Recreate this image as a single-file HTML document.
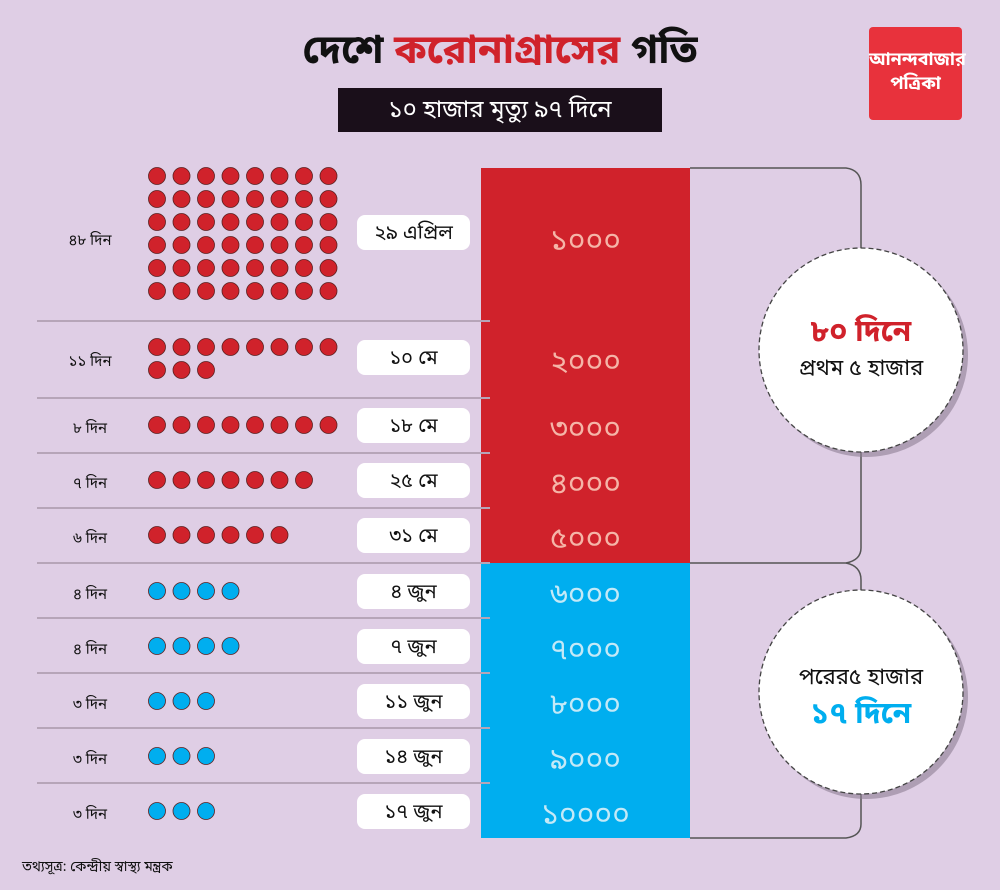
<!DOCTYPE html>
<html><head><meta charset="utf-8">
<style>
html,body{margin:0;padding:0}
body{width:1000px;height:890px;background:#dfcee5;position:relative;overflow:hidden;font-family:"Noto Sans Bengali","Lohit Bengali","FreeSans","Liberation Sans",sans-serif;color:#111}
.abs{position:absolute}
.lbl{position:absolute;left:50px;width:80px;text-align:center;font-size:15px}
.pill{position:absolute;left:357px;width:113px;height:35px;background:#fff;border-radius:8px;text-align:center;line-height:40px;font-size:20px}
.num{position:absolute;left:481px;width:209px;text-align:center;font-size:30px}
.sep{position:absolute;left:37px;width:453px;height:2px;background:#b6a5b8}
</style></head><body>
<div class="abs" style="left:0;width:1000px;top:27px;text-align:center;font-size:40px;font-weight:bold">দেশে <span style="color:#d0222b">করোনাগ্রাসের</span> গতি</div>
<div class="abs" style="left:338px;top:88px;width:324px;height:44px;background:#1a0f1a;color:#fff;text-align:center;line-height:46px;font-size:24px">১০ হাজার মৃত্যু ৯৭ দিনে</div>
<div class="abs" style="left:869px;top:27px;width:93px;height:93px;background:#e8323c;border-radius:4px;color:#fff;text-align:center;font-size:18px;font-weight:bold;line-height:24px;padding-top:22px;box-sizing:border-box">আনন্দবাজার<br>পত্রিকা</div>

<div class="abs" style="left:481px;top:168px;width:209px;height:395px;background:#d0222b"></div>
<div class="abs" style="left:481px;top:563px;width:209px;height:275px;background:#00aeef"></div>

<svg class="abs" style="left:0;top:0" width="1000" height="890">
<g stroke="#555" stroke-width="1.5" fill="none">
<path d="M690 168 H846 Q861 170 861 185 V250"/>
<path d="M861 452 V548 Q861 560 846 563 H690"/>
<path d="M846 563 Q861 566 861 580 V592"/>
<path d="M861 793 V824 Q861 836 846 838 H690"/>
</g>
<g fill="#8e7f93" opacity="0.6"><circle cx="866" cy="355" r="102"/><circle cx="866" cy="697" r="102"/></g>
<g fill="#fff" stroke="#444" stroke-width="1.3" stroke-dasharray="5 3"><circle cx="861" cy="350" r="102"/><circle cx="861" cy="692" r="102"/></g>
<g id="dots" stroke="#5a2020" stroke-width="0.8"></g>
</svg>
<div class="abs" style="left:759px;top:314px;width:204px;text-align:center;font-size:30px;font-weight:bold;color:#d0222b">৮০ দিনে</div>
<div class="abs" style="left:759px;top:355px;width:204px;text-align:center;font-size:22px">প্রথম ৫ হাজার</div>
<div class="abs" style="left:759px;top:664px;width:204px;text-align:center;font-size:22px">পরের৫ হাজার</div>
<div class="abs" style="left:759px;top:696px;width:204px;text-align:center;font-size:30px;font-weight:bold;color:#00aeef">১৭ দিনে</div>

<div class="sep" style="top:320px"></div><div class="sep" style="top:397px"></div><div class="sep" style="top:452px"></div><div class="sep" style="top:507px"></div><div class="sep" style="top:562px"></div><div class="sep" style="top:617px"></div><div class="sep" style="top:672px"></div><div class="sep" style="top:727px"></div><div class="sep" style="top:782px"></div>

<div id="rows"></div>
<div class="abs" style="left:22px;top:858px;font-size:14px">তথ্যসূত্র: কেন্দ্রীয় স্বাস্থ্য মন্ত্রক</div>
<script>
var rows=[["৪৮ দিন","২৯ এপ্রিল","১০০০",237,48,232],["১১ দিন","১০ মে","২০০০",358,11,357],["৮ দিন","১৮ মে","৩০০০",425,8,425],["৭ দিন","২৫ মে","৪০০০",480,7,480],["৬ দিন","৩১ মে","৫০০০",535,6,535],["৪ দিন","৪ জুন","৬০০০",591,4,591],["৪ দিন","৭ জুন","৭০০০",646,4,646],["৩ দিন","১১ জুন","৮০০০",701,3,701],["৩ দিন","১৪ জুন","৯০০০",756,3,756],["৩ দিন","১৭ জুন","১০০০০",811,3,811]];
var h="",d="";
rows.forEach(function(r,i){
 var c=r[3];
 h+='<div class="lbl" style="top:'+(c-5)+'px">'+r[0]+'</div>';
 h+='<div class="pill" style="top:'+(r[5]-17)+'px">'+r[1]+'</div>';
 h+='<div class="num" style="top:'+(c-14)+'px;color:'+(i<5?'#f5b5a8':'#c4e9f7')+'">'+r[2]+'</div>';
 var n=r[4],fill=i<5?'#d0222b':'#00aeef',y0;
 if(i==0)y0=176;else if(i==1)y0=347;else y0=c;
 for(var k=0;k<n;k++){var x=157+(k%8)*24.5,y=y0+Math.floor(k/8)*23;d+='<circle cx="'+x+'" cy="'+y+'" r="8.5" fill="'+fill+'"/>';}
});
document.getElementById('rows').innerHTML=h;
document.getElementById('dots').innerHTML=d;
</script>
</body></html>
